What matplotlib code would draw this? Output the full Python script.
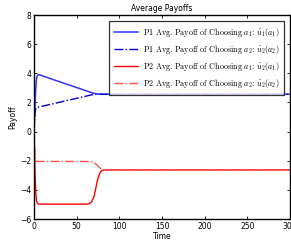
import matplotlib
matplotlib.use("Agg")
import matplotlib.pyplot as plt
import numpy as np

# data
t_p1a1 = [0, 1, 2, 3, 4, 5, 7, 12, 20, 30, 40, 50, 58, 64, 68, 72, 76, 80, 300]
v_p1a1 = [0.0, 1.5, 3.0, 3.7, 3.85, 3.9, 3.88, 3.78, 3.62, 3.42, 3.22, 3.02, 2.86, 2.74, 2.66, 2.6, 2.57, 2.56, 2.56]

t_p1a2 = [0, 1, 2, 3, 20, 40, 60, 68, 72, 80, 300]
v_p1a2 = [0.0, 1.2, 1.6, 1.65, 1.88, 2.15, 2.42, 2.53, 2.56, 2.56, 2.56]

t_p2a1 = [0, 1, 2, 3, 4, 5, 6, 8, 30, 60, 64, 67, 70, 72, 74, 76, 78, 80, 83, 300]
v_p2a1 = [0.0, -2.5, -4.2, -4.8, -4.93, -4.97, -4.98, -4.98, -4.98, -4.98, -4.96, -4.85, -4.5, -4.0, -3.4, -3.0, -2.75, -2.66, -2.63, -2.63]

t_p2a2 = [0, 1, 2, 3, 30, 60, 66, 70, 74, 77, 80, 83, 300]
v_p2a2 = [0.0, -1.5, -2.0, -2.05, -2.05, -2.05, -2.07, -2.12, -2.3, -2.5, -2.6, -2.63, -2.63]

labels = [
    r"P1 Avg. Payoff of Choosing $a_1$: $\hat{u}_1(a_1)$",
    r"P1 Avg. Payoff of Choosing $a_2$: $\hat{u}_2(a_2)$",
    r"P2 Avg. Payoff of Choosing $a_1$: $\hat{u}_2(a_1)$",
    r"P2 Avg. Payoff of Choosing $a_2$: $\hat{u}_2(a_2)$",
]
xticks = [0, 50, 100, 150, 200, 250, 300]
yticks = [-6, -4, -2, 0, 2, 4, 6, 8]

plt.rcParams['mathtext.fontset'] = 'cm'

fig = plt.figure(figsize=(2.91, 2.42), dpi=100)
ax = fig.add_axes([0.117, 0.095, 0.88, 0.843])

ax.plot(t_p1a1, v_p1a1, color='#3333ff', lw=1.1, label=labels[0])
ax.plot(t_p1a2, v_p1a2, color='#0000cc', lw=1.0, ls='-.', label=labels[1])
ax.plot(t_p2a1, v_p2a1, color='#ff0000', lw=1.0, label=labels[2])
ax.plot(t_p2a2, v_p2a2, color='#ff5050', lw=1.0, ls='-.', label=labels[3])

ax.set_xlim(0, 300)
ax.set_ylim(-6, 8)
ax.set_xticks(xticks)
ax.set_yticks(yticks)
ax.tick_params(direction='in', length=2, width=0.6, labelsize=5.5, pad=2,
               top=True, right=True)
for s in ax.spines.values():
    s.set_linewidth(1.0)

ax.set_title("Average Payoffs", fontsize=5.5, pad=3)
ax.set_xlabel("Time", fontsize=5.5, labelpad=1)
ax.set_ylabel("Payoff", fontsize=5.5, labelpad=2)

leg = ax.legend(loc='upper right', prop={'family': 'cmr10', 'size': 5.8},
                frameon=True, fancybox=False, edgecolor='black',
                handlelength=3.0, labelspacing=0.5, borderpad=0.6,
                handletextpad=0.6, borderaxespad=0.75)
leg.get_frame().set_linewidth(0.9)

fig.savefig("out.png", dpi=100)
